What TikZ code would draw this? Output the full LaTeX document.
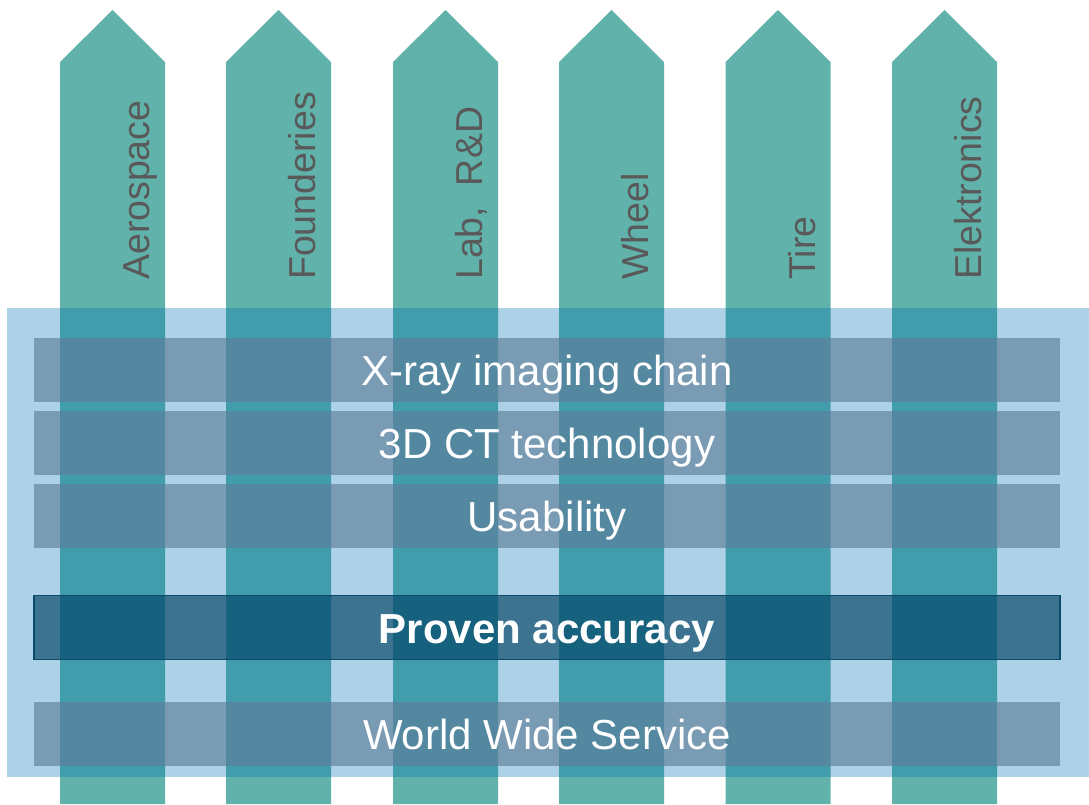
\documentclass[tikz,border=0pt]{standalone}
\usepackage{fontspec}
\setmainfont{Liberation Sans}
\usepackage{tikz}
\usetikzlibrary{positioning}
\definecolor{pillar}{HTML}{61B2AA}
\definecolor{frameblue}{HTML}{0071B1}
\definecolor{bandblue}{HTML}{5E7E9A}
\definecolor{keyblue}{HTML}{004264}
\definecolor{keyline}{HTML}{0A4A6A}
\definecolor{labelgray}{HTML}{595959}

\begin{document}
\begin{tikzpicture}[x=1pt,y=-1pt,node distance=73pt,on grid,
    sector/.style={rotate=90,anchor=base west,inner sep=0pt,text=labelgray,
      font=\fontsize{37.5}{42}\selectfont},
    band/.style={fill=bandblue,fill opacity=0.65,text opacity=1,text=white,
      minimum width=1026pt,minimum height=64pt,inner sep=0pt,
      text height=31pt,text depth=0pt,
      font=\fontsize{42}{48}\selectfont},
    keyband/.style={band,fill=keyblue,draw=keyline,draw opacity=1,line width=1.5pt,
      font=\fontsize{42}{48}\selectfont\bfseries}]
    \useasboundingbox (0,0) rectangle (1089,804);
    % industry pillars
    \foreach \x/\name/\lbl in {60/aero/Aerospace,226/found/Founderies,
        393/lab/{Lab,~~R\&D},559/wheel/Wheel,725.5/tire/Tire,892/elec/Elektronics}
    {
      \fill[pillar] (\x,804) -- (\x,62) -- (\x+52.5,10) -- (\x+105,62) -- (\x+105,804) -- cycle;
      \node[sector] (\name) at (\x+89.5,280) {\lbl};
    }
    % base frame
    \fill[frameblue,fill opacity=0.32] (7,308) rectangle (1089,777);
    \node[band] (xray) at (547,370) {X-ray imaging chain};
    \node[band] (ct) [below = of xray] {3D CT technology};
    \node[band] (usab) [below = of ct] {Usability};
    \node[keyband] (proven) [below = 111.5pt of usab] {Proven accuracy};
    \node[band] (service) [below = 106.5pt of proven] {World Wide Service};
  \end{tikzpicture}
\end{document}
